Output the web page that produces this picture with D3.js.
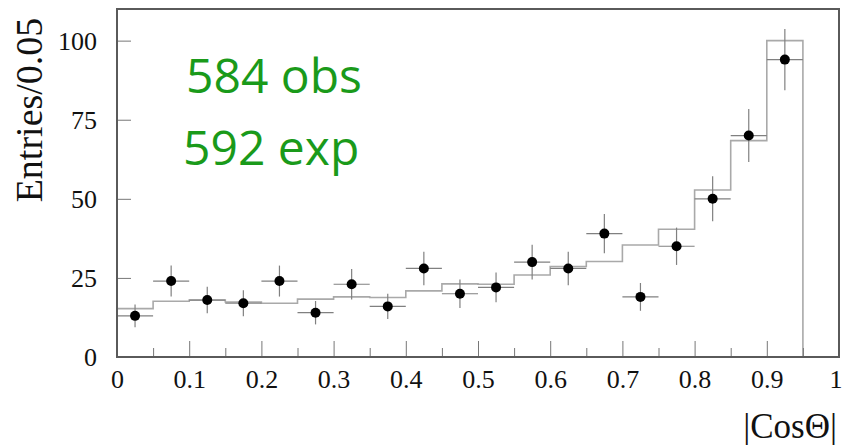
<!DOCTYPE html>
<html>
<head>
<meta charset="utf-8">
<script src="https://cdn.jsdelivr.net/npm/d3@7"></script>
<style>
  html, body { margin: 0; padding: 0; background: #fff; }
  svg { display: block; }
  .tick-label { font-family: 'Liberation Serif', 'Times New Roman', serif; font-size: 26px; fill: #111; }
</style>
</head>
<body>
<div id="chart"></div>
<script>
// bin edges (lower edges) of |cos theta|, width 0.05
const binLows = [0, 0.05, 0.1, 0.15, 0.2, 0.25, 0.3, 0.35, 0.4, 0.45,
  0.5, 0.55, 0.6, 0.65, 0.7, 0.75, 0.8, 0.85, 0.9];
const binWidth = 0.05;
// observed entries per bin (dots)
const observed = [13, 24, 18, 17, 24, 14, 23, 16, 28, 20,
  22, 30, 28, 39, 19, 35, 50, 70, 94];
// vertical error per bin
const obsErrors = [3.6, 4.9, 4.2, 4.1, 4.9, 3.7, 4.8, 4.0, 5.3, 4.5,
  4.7, 5.5, 5.3, 6.2, 4.4, 5.9, 7.1, 8.4, 9.7];
// expected entries per bin (grey histogram)
const expected = [15.3, 17.6, 18.0, 17.4, 17.0, 18.3, 19.0, 18.8, 20.9, 23.1,
  23.0, 25.9, 28.6, 30.2, 35.4, 40.4, 52.8, 68.4, 100.0];

const xMajorTicks = [0, 0.1, 0.2, 0.3, 0.4, 0.5, 0.6, 0.7, 0.8, 0.9, 1];
const xTickLabels = ['0', '0.1', '0.2', '0.3', '0.4', '0.5', '0.6', '0.7', '0.8', '0.9', '1'];
const xMinorTicks = [0.05, 0.15, 0.25, 0.35, 0.45, 0.55, 0.65, 0.75, 0.85, 0.95];
const yTicks = [0, 25, 50, 75, 100];
const annotations = ['584 obs', '592 exp'];

const width = 843;
const height = 445;
const frame = { left: 117, right: 839, top: 9, bottom: 357 };

const x = d3.scaleLinear().domain([0, 1]).range([frame.left, frame.right]);
const y = d3.scaleLinear().domain([0, 110]).range([frame.bottom, frame.top]);

const svg = d3.select('#chart')
  .append('svg')
  .attr('width', width)
  .attr('height', height);

/* Method to draw the axes with inward ticks and serif labels
   Params: @svg is the root svg selection
*/
function AppendAxes(svg) {
  const xAxis = svg.append('g')
    .attr('transform', `translate(0,${frame.bottom})`)
    .call(d3.axisBottom(x)
      .tickValues(xMajorTicks)
      .tickSize(-16)
      .tickFormat((d, i) => xTickLabels[i]));
  xAxis.selectAll('text')
    .attr('class', 'tick-label')
    .attr('dy', null)
    .attr('y', 31);
  // last label sits at the window edge, keep it inside
  xAxis.selectAll('text')
    .filter((d) => d === 1)
    .attr('text-anchor', 'end')
    .attr('x', 3);

  svg.append('g')
    .attr('transform', `translate(0,${frame.bottom})`)
    .call(d3.axisBottom(x).tickValues(xMinorTicks).tickSize(-9).tickFormat(''));

  const yAxis = svg.append('g')
    .attr('transform', `translate(${frame.left},0)`)
    .call(d3.axisLeft(y).tickValues(yTicks).tickSize(-14).tickPadding(20));
  yAxis.selectAll('text')
    .attr('class', 'tick-label')
    .attr('dy', '0.34em');

  svg.selectAll('.domain').remove();
  svg.selectAll('.tick line').attr('stroke', '#777').attr('stroke-width', 1);
}

/* Method to draw the grey expected histogram as a step line
   Params: @svg is the root svg selection
*/
function AppendHistogram(svg) {
  const pts = binLows.map((lo, i) => [lo, expected[i]]);
  const last = binLows[binLows.length - 1] + binWidth;
  pts.push([last, expected[expected.length - 1]]);
  pts.push([last, 0]);
  const line = d3.line()
    .x((d) => x(d[0]))
    .y((d) => y(d[1]))
    .curve(d3.curveStepAfter);
  svg.append('path')
    .datum(pts)
    .attr('d', line)
    .attr('fill', 'none')
    .attr('stroke', '#a9a9a9')
    .attr('stroke-width', 1.6);
}

/* Method to draw the observed points with error crosses
   Params: @svg is the root svg selection
*/
function AppendPoints(svg) {
  const g = svg.append('g');
  const pts = g.selectAll('g.pt')
    .data(observed)
    .join('g')
    .attr('class', 'pt');
  pts.append('line')
    .attr('x1', (d, i) => x(binLows[i]))
    .attr('x2', (d, i) => x(binLows[i] + binWidth))
    .attr('y1', (d) => y(d))
    .attr('y2', (d) => y(d));
  pts.append('line')
    .attr('x1', (d, i) => x(binLows[i] + binWidth / 2))
    .attr('x2', (d, i) => x(binLows[i] + binWidth / 2))
    .attr('y1', (d, i) => y(d - obsErrors[i]))
    .attr('y2', (d, i) => y(d + obsErrors[i]));
  pts.selectAll('line')
    .attr('stroke', '#808080')
    .attr('stroke-width', 1.2);
  pts.append('circle')
    .attr('cx', (d, i) => x(binLows[i] + binWidth / 2))
    .attr('cy', (d) => y(d))
    .attr('r', 5)
    .attr('fill', '#000');
}

AppendHistogram(svg);
AppendPoints(svg);
AppendAxes(svg);

// plot frame
svg.append('rect')
  .attr('x', frame.left)
  .attr('y', frame.top)
  .attr('width', frame.right - frame.left)
  .attr('height', frame.bottom - frame.top)
  .attr('fill', 'none')
  .attr('stroke', '#5a5a5a')
  .attr('stroke-width', 2);

// axis titles
svg.append('text')
  .attr('transform', 'translate(42,110) rotate(-90)')
  .attr('text-anchor', 'middle')
  .style('font-family', "'Liberation Serif', serif")
  .style('font-size', '38px')
  .attr('fill', '#111')
  .text('Entries/0.05');

svg.append('text')
  .attr('x', 837)
  .attr('y', 438)
  .attr('text-anchor', 'end')
  .style('font-family', "'Liberation Serif', serif")
  .style('font-size', '35px')
  .attr('fill', '#111')
  .text('|CosΘ|');

// green counts
svg.selectAll('text.note')
  .data(annotations)
  .join('text')
  .attr('class', 'note')
  .attr('x', (d, i) => [186, 183][i])
  .attr('y', (d, i) => [93, 165][i])
  .style('font-family', "'Open Sans', sans-serif")
  .style('font-size', '48px')
  .attr('fill', '#1a9a1a')
  .text((d) => d);
</script>
</body>
</html>
